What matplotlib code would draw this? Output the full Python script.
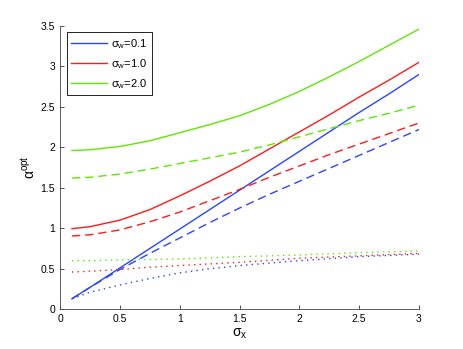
import matplotlib
matplotlib.use("Agg")
import matplotlib.pyplot as plt
from matplotlib.ticker import FormatStrFormatter

plt.rcParams['font.family'] = ['Liberation Sans', 'DejaVu Sans']
plt.rcParams['mathtext.default'] = 'regular'

# sigma_x sample points
sx = [0.1, 0.25, 0.5, 0.75, 1.0, 1.25, 1.5, 1.75, 2.0, 2.25, 2.5, 2.75, 3.0]

# solid lines
blue_solid = [0.13, 0.27, 0.51, 0.75, 0.99, 1.23, 1.47, 1.71, 1.95, 2.19, 2.43, 2.66, 2.90]
red_solid = [0.995, 1.02, 1.10, 1.23, 1.40, 1.58, 1.77, 1.98, 2.19, 2.40, 2.62, 2.83, 3.05]
green_solid = [1.96, 1.97, 2.01, 2.08, 2.18, 2.28, 2.39, 2.53, 2.69, 2.87, 3.06, 3.26, 3.46]

# dashed lines
blue_dash = [0.13, 0.27, 0.49, 0.69, 0.88, 1.07, 1.25, 1.42, 1.58, 1.74, 1.90, 2.06, 2.22]
red_dash = [0.905, 0.92, 0.98, 1.08, 1.20, 1.34, 1.48, 1.63, 1.77, 1.91, 2.04, 2.17, 2.30]
green_dash = [1.62, 1.63, 1.67, 1.73, 1.80, 1.87, 1.94, 2.03, 2.13, 2.23, 2.33, 2.42, 2.52]

# dotted lines
blue_dot = [0.13, 0.21, 0.30, 0.38, 0.45, 0.50, 0.54, 0.57, 0.60, 0.625, 0.65, 0.665, 0.68]
red_dot = [0.46, 0.47, 0.49, 0.52, 0.54, 0.56, 0.58, 0.605, 0.63, 0.645, 0.66, 0.675, 0.69]
green_dot = [0.60, 0.60, 0.61, 0.615, 0.62, 0.635, 0.65, 0.66, 0.67, 0.685, 0.70, 0.71, 0.72]

labels = [r'σ$_w$=0.1', r'σ$_w$=1.0', r'σ$_w$=2.0']
blue, red, green = '#2a45ff', '#ff1a1a', '#5ee800'

fig = plt.figure(figsize=(4.63, 3.49), dpi=100)
ax = fig.add_axes([0.1296, 0.1138, 0.7754, 0.8122])

lw = 1.0
ax.plot(sx, blue_solid, color=blue, lw=lw, label=labels[0])
ax.plot(sx, red_solid, color=red, lw=lw, label=labels[1])
ax.plot(sx, green_solid, color=green, lw=lw, label=labels[2])

dash = (0, (6, 3.5))
ax.plot(sx, blue_dash, color=blue, lw=lw, ls=dash)
ax.plot(sx, red_dash, color=red, lw=lw, ls=dash)
ax.plot(sx, green_dash, color=green, lw=lw, ls=dash)

dot = (0, (1, 3))
ax.plot(sx, blue_dot, color=blue, lw=lw, ls=dot)
ax.plot(sx, red_dot, color=red, lw=lw, ls=dot)
ax.plot(sx, green_dot, color=green, lw=lw, ls=dot)

ax.set_xlim(0, 3)
ax.set_ylim(0, 3.5)
ax.set_xticks([0, 0.5, 1, 1.5, 2, 2.5, 3])
ax.set_yticks([0, 0.5, 1, 1.5, 2, 2.5, 3, 3.5])
ax.xaxis.set_major_formatter(FormatStrFormatter('%g'))
ax.yaxis.set_major_formatter(FormatStrFormatter('%g'))
ax.tick_params(direction='in', length=3, width=0.6, labelsize=7.5, colors='#333333')
ax.tick_params(labelcolor='black')

for side in ['top', 'right']:
    ax.spines[side].set_visible(False)
for side in ['left', 'bottom']:
    ax.spines[side].set_linewidth(0.6)
    ax.spines[side].set_color('#444444')

ax.set_xlabel(r'σ$_x$', fontsize=10, labelpad=2)
ax.set_ylabel(r'α$^{opt}$', fontsize=10, labelpad=2)

leg = ax.legend(loc='upper left', fontsize=8, fancybox=False, framealpha=1,
                edgecolor='black', handlelength=3.2, borderaxespad=0.6,
                labelspacing=0.55, handletextpad=0.4)
leg.get_frame().set_linewidth(0.6)

fig.savefig('out.png', dpi=100)
